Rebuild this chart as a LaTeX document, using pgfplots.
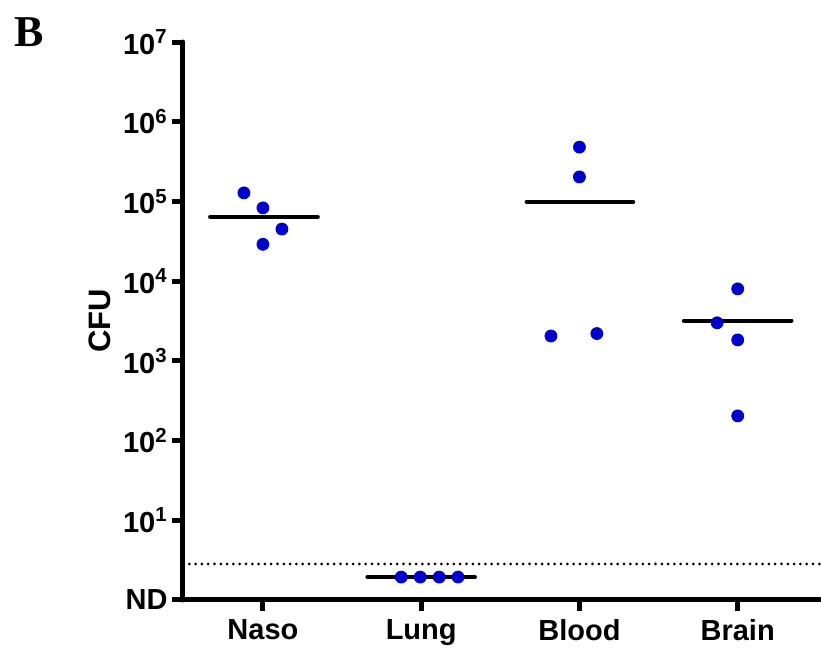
\documentclass[border=0pt]{standalone}
\usepackage{fontspec}
\setmainfont{Liberation Sans}
\newfontfamily\serifb{Liberation Serif}
\usepackage{pgfplots}
\pgfplotsset{compat=1.18}
\definecolor{ptblue}{RGB}{0,0,204}
\begin{document}
\begin{tikzpicture}
\begin{axis}[
  at={(0,0)}, anchor=south west,
  scale only axis,
  width=318.5pt, height=279pt,
  ymode=log,
  ymin=1, ymax=1e7,
  xmin=0.495, xmax=4.52,
  axis lines*=left,
  axis line style={line width=2.5pt, line cap=round},
  tick style={line width=2.5pt, black},
  tick align=outside,
  major tick length=5.5pt,
  minor tick num=0,
  log basis y=10,
  ytick={1,10,100,1000,10000,100000,1000000,10000000},
  yticklabels={ND,10\textsuperscript{1},10\textsuperscript{2},10\textsuperscript{3},10\textsuperscript{4},10\textsuperscript{5},10\textsuperscript{6},10\textsuperscript{7}},
  xtick={1,2,3,4},
  xticklabels={Naso,Lung,Blood,Brain},
  ticklabel style={font=\fontsize{14.5pt}{16pt}\selectfont\bfseries},
  yticklabel style={inner sep=2pt},
  xticklabel style={inner sep=4pt},
  ylabel={CFU},
  ylabel style={font=\fontsize{15.5pt}{17pt}\selectfont\bfseries, at={(axis description cs:-0.130,0.5)}, anchor=center},
  clip=false,
]
% dotted detection limit
\addplot[black, line width=1.5pt, dash pattern=on 0pt off 3.15pt, line cap=round] coordinates {(0.495,2.83) (4.52,2.83)};
% medians
\addplot[black, line width=2pt, line cap=round] coordinates {(0.666,6.4e4) (1.347,6.4e4)};
\addplot[black, line width=2pt, line cap=round] coordinates {(1.66,1.94) (2.34,1.94)};
\addplot[black, line width=2pt, line cap=round] coordinates {(2.666,9.9e4) (3.34,9.9e4)};
\addplot[black, line width=2pt, line cap=round] coordinates {(3.66,3.2e3) (4.34,3.2e3)};
% points
\addplot[only marks, mark=*, mark size=3pt, color=ptblue, mark options={draw=ptblue, fill=ptblue}] coordinates {
 (0.88,1.28e5) (1.0,8.3e4) (1.12,4.5e4) (1.0,2.9e4)
 (1.874,1.94) (1.994,1.94) (2.114,1.94) (2.233,1.94)
 (3.0,4.8e5) (3.0,2.03e5) (2.82,2.05e3) (3.11,2.2e3)
 (4.0,8.0e3) (3.87,3.0e3) (4.0,1.83e3) (4.0,204)
};
\end{axis}
\node[font=\serifb\fontsize{22pt}{24pt}\selectfont\bfseries] at (-77pt,284pt) {B};
\pgfresetboundingbox
\path[use as bounding box] (-91.5pt,-25.5pt) rectangle (319pt,300pt);
\end{tikzpicture}
\end{document}
